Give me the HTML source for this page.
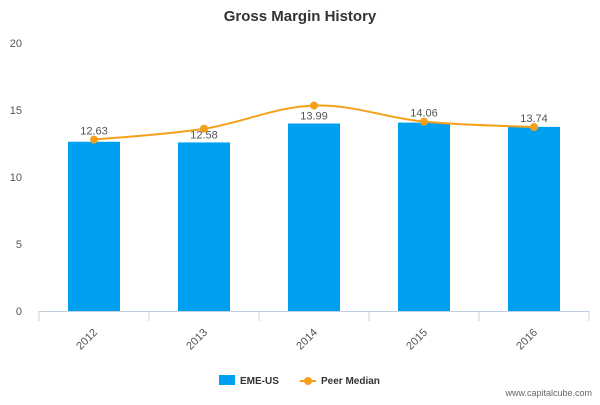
<!DOCTYPE html>
<html><head><meta charset="utf-8"><style>
body{margin:0;background:#fff;font-family:"Liberation Sans",sans-serif}
svg text{font-family:"Liberation Sans",sans-serif}
</style></head><body>
<svg id="c" width="600" height="400" xmlns="http://www.w3.org/2000/svg">
<text x="300" y="21" text-anchor="middle" font-size="15" font-weight="bold" fill="#333">Gross Margin History</text>
<g id="axes"></g><g id="bars"></g><g id="line"></g>
<g>
<rect x="219" y="375" width="16" height="10" fill="#00a0f0"/>
<text x="240" y="384" font-size="10" font-weight="bold" fill="#333">EME-US</text>
<line x1="300" y1="381" x2="316" y2="381" stroke="#f5a01a" stroke-width="2"/>
<circle cx="308" cy="381" r="4" fill="#f5a01a"/>
<text x="321" y="384" font-size="10" font-weight="bold" fill="#333">Peer Median</text>
</g>
<text x="592" y="396" text-anchor="end" font-size="9" fill="#666">www.capitalcube.com</text>
</svg>
<script>
const categories=["2012","2013","2014","2015","2016"];
const emeValues=[12.63,12.58,13.99,14.06,13.74];
const peerValues=[12.79,13.6,15.33,14.13,13.73];
const yTicks=[0,5,10,15,20];
const NS="http://www.w3.org/2000/svg";
const L=39,R=589,T=43,B=311,yMax=20;
const bw=(R-L)/categories.length;
const x=i=>L+bw*(i+0.5);
const y=v=>B-(v/yMax)*(B-T);
function mk(tag,attrs,parent){const e=document.createElementNS(NS,tag);for(const k in attrs)e.setAttribute(k,attrs[k]);parent.appendChild(e);return e;}
const ax=document.getElementById('axes'),bg=document.getElementById('bars'),lg=document.getElementById('line');
yTicks.forEach(t=>{const e=mk('text',{x:22,y:y(t)+4,'text-anchor':'end','font-size':11,fill:'#555'},ax);e.textContent=t;

});
const base=mk('line',{x1:L,y1:B+0.5,x2:R,y2:B+0.5,stroke:'#c0d0e0'},ax);


for(let i=0;i<=categories.length;i++){mk('line',{x1:L+bw*i,y1:B,x2:L+bw*i,y2:B+10,stroke:'#c0d0e0'},ax);}
categories.forEach((c,i)=>{const e=mk('text',{x:x(i)+4,y:B+22,'text-anchor':'end','font-size':11,fill:'#555',transform:`rotate(-45 ${x(i)+4} ${B+22})`},ax);e.textContent=c;

});
emeValues.forEach((v,i)=>{const r=mk('rect',{x:x(i)-26,y:y(v),width:52,height:B-y(v),fill:'#00a0f0'},bg);


const t=mk('text',{x:x(i),y:y(Math.max(v,peerValues[i]))-5,'text-anchor':'middle','font-size':11,fill:'#555'},bg);t.textContent=v.toFixed(2);
if(peerValues[i]>v+0.3)t.setAttribute('y',y(v)-4);

});
const pts=peerValues.map((v,i)=>[x(i),y(v)]);
let d=`M${pts[0][0]},${pts[0][1]}`;
for(let i=0;i<pts.length-1;i++){const p0=pts[Math.max(0,i-1)],p1=pts[i],p2=pts[i+1],p3=pts[Math.min(pts.length-1,i+2)];const k=0.18;
d+=` C${p1[0]+(p2[0]-p0[0])*k},${p1[1]+(p2[1]-p0[1])*k} ${p2[0]-(p3[0]-p1[0])*k},${p2[1]-(p3[1]-p1[1])*k} ${p2[0]},${p2[1]}`;}
const pl=mk('path',{d:d,fill:'none',stroke:'#f5a01a','stroke-width':2},lg);


pts.forEach((p,i)=>{const c=mk('circle',{cx:p[0],cy:p[1],r:4,fill:'#f5a01a'},lg);

});
</script>
</body></html>
